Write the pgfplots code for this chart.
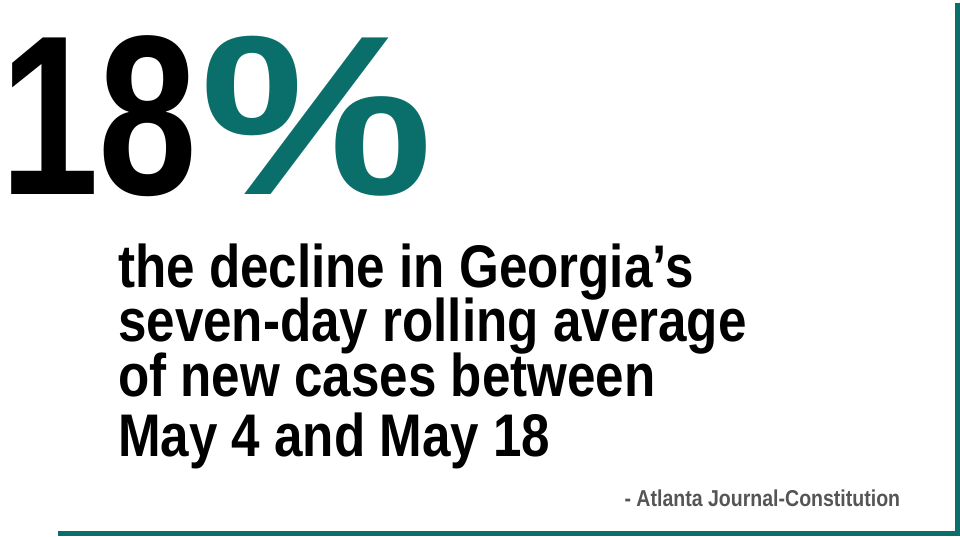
\documentclass[border=0pt]{standalone}
\usepackage{pgfplots}
\pgfplotsset{compat=1.18}
\usepackage{fontspec}
\setmainfont{Liberation Sans}
\definecolor{teal1}{HTML}{0A6F6A}
\definecolor{gr}{HTML}{555555}
\newcommand{\bt}[1]{\scalebox{0.85}[1]{\fontsize{55}{55}\selectfont\bfseries #1}}
\begin{document}
\begin{tikzpicture}
\begin{axis}[width=960pt,height=554pt,scale only axis,xmin=0,xmax=960,ymin=0,ymax=554,hide axis,clip=false]
\addplot[teal1,line width=5pt] coordinates {(937,509) (937,24) (115,24)};
\node[anchor=base west,inner sep=0pt] at (axis cs:62,334) {\scalebox{0.78}[1]{\fontsize{208}{208}\selectfont\bfseries 18}};
\node[anchor=base west,inner sep=0pt,text=teal1] at (axis cs:245,334) {\scalebox{1.15}[1]{\fontsize{208}{208}\selectfont\bfseries \%}};
\node[anchor=base west,inner sep=0pt] at (axis cs:170,249) {\bt{the decline in Georgia's}};
\node[anchor=base west,inner sep=0pt] at (axis cs:170,199) {\bt{seven-day rolling average}};
\node[anchor=base west,inner sep=0pt] at (axis cs:170,149) {\bt{of new cases between}};
\node[anchor=base west,inner sep=0pt] at (axis cs:170,94) {\bt{May 4 and May 18}};
\node[anchor=base east,inner sep=0pt,text=gr] at (axis cs:885,49) {\scalebox{0.85}[1]{\fontsize{21}{21}\selectfont\bfseries - Atlanta Journal-Constitution}};
\end{axis}
\end{tikzpicture}
\end{document}
